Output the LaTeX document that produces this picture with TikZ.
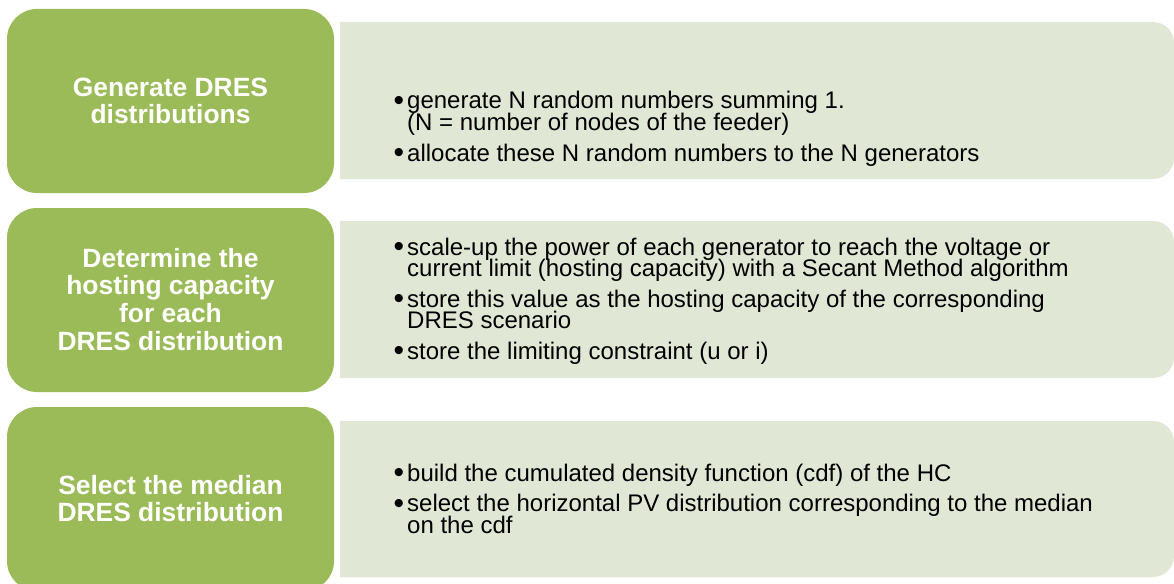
\documentclass[tikz,border=0pt]{standalone}
\usepackage{fontspec}
\setmainfont{Liberation Sans}
\definecolor{hdgreen}{HTML}{9BBB59}
\definecolor{palegreen}{HTML}{E0E8D5}
\newcommand\bul{\makebox[13pt][l]{\hspace{-0.5pt}\raisebox{-1.6pt}{\fontsize{30pt}{22pt}\selectfont\textbullet}}}
\newcommand\itm[1]{\hangindent=13pt\hangafter=1\noindent\bul#1\par}
\newcommand\isep{\vspace{9pt}}
\newcommand\rtext[1]{\parbox[t]{775pt}{\raggedright\fontsize{24pt}{21.5pt}\selectfont\lineskiplimit=-20pt #1}}
\newcommand\ltext[2]{\parbox[t]{320pt}{\centering\bfseries\fontsize{26.4pt}{#1}\selectfont\lineskiplimit=-20pt #2}}
\begin{document}
\begin{tikzpicture}[x=1pt,y=-1pt,
  gbox/.style={fill=hdgreen, rounded corners=30pt, minimum width=327pt, minimum height=184pt, inner sep=0pt},
  gtext/.style={anchor=base, text=white, inner sep=0pt},
  btext/.style={anchor=base west, text=black, inner sep=0pt}]
\useasboundingbox (0,0) rectangle (1174,583);
\clip (0,0) rectangle (1174,583);
% pale right boxes
\foreach \t/\b in {22/179, 221/378, 421/577}{
  \fill[palegreen] (340,\t) -- (1153,\t) arc[start angle=-90, end angle=0, radius=21]
    -- (1174,\b-21) arc[start angle=0, end angle=90, radius=21] -- (340,\b) -- cycle;
}
% green left boxes
\node[gbox] (g1) at (170.5,101) {};
\node[gbox] (g2) at (170.5,300) {};
\node[gbox] (g3) at (170.5,499) {};
% left labels
\node[gtext] (l1) at (170.5,97) {\ltext{27pt}{Generate DRES\\distributions}};
\node[gtext] (l2) at (170.5,267) {\ltext{27.7pt}{Determine the\\hosting capacity\\for each\\DRES distribution}};
\node[gtext] (l3) at (170.5,494) {\ltext{27pt}{Select the median\\DRES distribution}};
% right texts
\node[btext] (r1) at (394,109) {\rtext{%
  \itm{generate N random numbers summing 1.\newline(N = number of nodes of the feeder)}\isep
  \itm{allocate these N random numbers to the N generators}}};
\node[btext] (r2) at (394,255) {\rtext{%
  \itm{scale-up the power of each generator to reach the voltage or\newline current limit (hosting capacity) with a Secant Method algorithm}\isep
  \itm{store this value as the hosting capacity of the corresponding\newline DRES scenario}\isep
  \itm{store the limiting constraint (u or i)}}};
\node[btext] (r3) at (394,481) {\rtext{%
  \itm{build the cumulated density function (cdf) of the HC}\isep
  \itm{select the horizontal PV distribution corresponding to the median\newline on the cdf}}};
\end{tikzpicture}
\end{document}
